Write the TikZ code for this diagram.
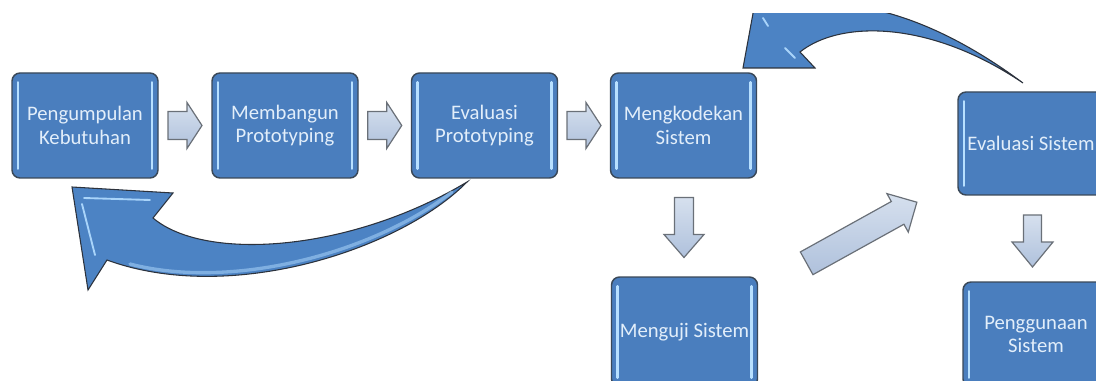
\documentclass[tikz,border=0pt]{standalone}
\usepackage{fontspec}
\setmainfont{Carlito}
\usetikzlibrary{calc}

\definecolor{boxblue}{HTML}{4A7EBE}
\definecolor{boxedge}{HTML}{3A4858}
\definecolor{barblue}{HTML}{B8E0FF}
\definecolor{txt}{HTML}{E2EEFA}
\definecolor{arrowtop}{HTML}{D6E0EE}
\definecolor{arrowbot}{HTML}{AFC1DC}
\definecolor{arrowedge}{HTML}{6A7078}
\definecolor{bigblue}{HTML}{4C83C4}
\definecolor{bigedge}{HTML}{2C323C}
\definecolor{gloss}{HTML}{A9D4FA}

\begin{document}
\begin{tikzpicture}[x=0.75pt,y=-0.75pt,
  stagebox/.style={rectangle, rounded corners=6pt, draw=boxedge, line width=1.1pt,
    fill=boxblue, text=txt, font=\fontsize{15.5}{17.5}\selectfont, align=center,
    inner sep=0pt, minimum width=109.5pt, minimum height=78.75pt,
    path picture={
      \draw[barblue, line width=2pt, line cap=round]
        ($(path picture bounding box.north west)+(4.5pt,-7pt)$) --
        ($(path picture bounding box.south west)+(4.5pt,7pt)$);
      \draw[barblue, line width=2pt, line cap=round]
        ($(path picture bounding box.north east)+(-4.5pt,-7pt)$) --
        ($(path picture bounding box.south east)+(-4.5pt,7pt)$);
    }},
  blockarrow/.style={draw=arrowedge, line width=0.9pt, top color=arrowtop,
    bottom color=arrowbot, line join=miter},
  bigarrow/.style={draw=bigedge, line width=0.8pt, fill=bigblue, line join=miter},
  glint/.style={gloss, line width=1.4pt, line cap=round}]

\useasboundingbox (0,0) rectangle (1096,381);
\clip (0,0) rectangle (1096,381);

% process stages
\node[stagebox] (kb) at (85,125.5) {Pengumpulan\\Kebutuhan};
\node[stagebox] (pr) at (285,125.5) {Membangun\\Prototyping};
\node[stagebox] (ep) at (484.5,125.5) {Evaluasi\\Prototyping};
\node[stagebox] (ks) at (683.5,125.5) {Mengkodekan\\Sistem};
\node[stagebox, minimum height=77.25pt] (es) at (1031,143.5) {Evaluasi Sistem};
\node[stagebox, minimum height=82.5pt] (us) at (684.5,332) {Menguji Sistem};
\node[stagebox] (ps) at (1036,334.5) {Penggunaan\\Sistem};

% block arrows between stages
\coordinate (a1) at ($(kb.east)!0.5!(pr.west)$);
\coordinate (a2) at ($(pr.east)!0.5!(ep.west)$);
\coordinate (a3) at ($(ep.east)!0.5!(ks.west)$);
\foreach \c in {a1,a2,a3}
  \draw[blockarrow, shift={(\c)}] (-17,-14) -- (2,-14) -- (2,-23) -- (17,0)
    -- (2,23) -- (2,14) -- (-17,14) -- cycle;

\coordinate (d1) at ($(ks.south)!0.5!(us.north)$);
\draw[blockarrow, shift={(d1)}, rotate=-90] (-30,-9.5) -- (7,-9.5) -- (7,-20)
  -- (30,0) -- (7,20) -- (7,9.5) -- (-30,9.5) -- cycle;

\coordinate (d2) at ($(es.south)!0.5!(ps.north)+(-1,2.5)$);
\draw[blockarrow, shift={(d2)}, rotate=-90] (-26,-9) -- (1,-9) -- (1,-20.5)
  -- (26,0) -- (1,20.5) -- (1,9) -- (-26,9) -- cycle;

\coordinate (dg) at ($(us.east)!0.5!(es.west)+(4,-5)$);
\draw[blockarrow, shift={(dg)}, rotate=29] (-63,-13) -- (41,-13) -- (41,-22)
  -- (63,0) -- (41,22) -- (41,13) -- (-63,13) -- cycle;

% curved return arrow below the prototyping stages
\draw[bigarrow] (72,187) -- (173,193) -- (153,218)
  .. controls (205,262) and (350,252) .. (467,182)
  .. controls (400,250) and (230,305) .. (107,260) -- (88,290) -- cycle;
\draw[glint] (84,198) -- (150,200);
\draw[glint] (82,204) -- (95,255);
\draw[glint, opacity=0.55, line width=2.5pt]
  (130,264) .. controls (230,290) and (370,255) .. (452,192);

% curved return arrow above the system stages
\begin{scope}
  \clip (0,14) rectangle (1096,381);
  \draw[bigarrow] (743,68) -- (815,68) -- (800,52)
    .. controls (840,20) and (930,20) .. (1023,83)
    .. controls (965,40) and (870,-15) .. (772,10) -- (756,-3) -- cycle;
  \draw[glint] (763,18) -- (768,26);
  \draw[glint] (785,48) -- (795,58);
\end{scope}
\end{tikzpicture}
\end{document}
